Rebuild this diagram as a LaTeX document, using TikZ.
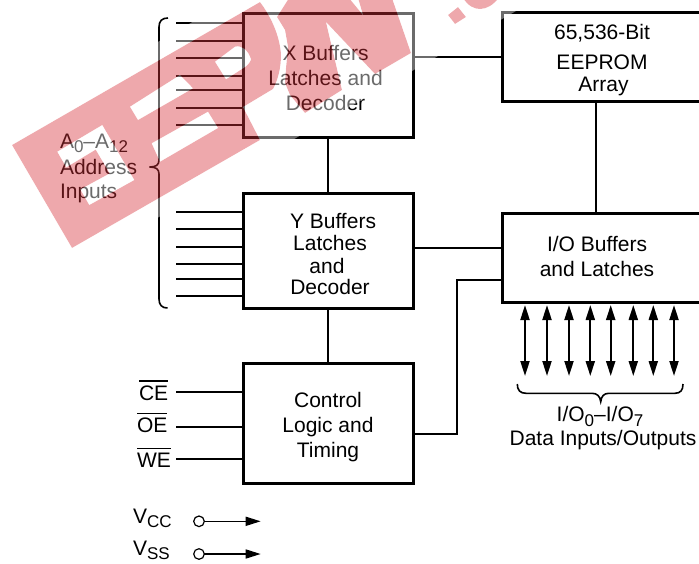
\documentclass[tikz,border=0pt]{standalone}
\usepackage{fontspec}
\setmainfont{Liberation Sans}
\usetikzlibrary{arrows.meta}
\definecolor{wmred}{RGB}{214,48,57}
\newcommand\sublow[1]{\raisebox{-4.3pt}{\fontsize{17}{17}\selectfont #1}}
\newcommand\bartext[1]{\vbox{\hrule height 1.7pt \kern 3.6pt \hbox{#1}}}
\tikzset{
  every node/.style={font=\fontsize{21}{22}\selectfont, inner sep=0pt, outer sep=0pt, text=black},
  blockbox/.style={draw=black, line width=3pt, rectangle, line join=miter},
  sig/.style={draw=black, line width=2pt},
  thinsig/.style={draw=black, line width=1.6pt},
  bidir/.style={draw=black, line width=2pt, {Triangle[length=15pt,width=9pt]}-{Triangle[length=15pt,width=9pt]}},
  pinarrow/.style={draw=black, line width=1.6pt, -{Triangle[length=15pt,width=9pt]}},
  pin/.style={draw=black, circle, line width=1.2pt, minimum size=10.6pt},
  lbl/.style={align=center},
  wmshapes/.style={insert path={
    (12,145) -- (260,2) .. controls (270,15) and (280,35) .. (281,55)
      .. controls (281,68) and (278,80) .. (273,89) -- (243,107) -- (260,140) -- (72,248) -- cycle
    (57.3,151.7) -- (102.3,125) -- (134.3,180) -- (89.3,205) -- (80.3,189.4) -- (109.7,173.4) -- (95.7,149.6) -- (66.3,167.3) -- cycle
    (130,106.7) -- (180,75) -- (193,88.3) -- (138,120) -- cycle
    (151.7,143.3) -- (208,111.7) -- (218,128) -- (160,161.7) -- cycle
    (215,61.7) -- (235,46.7) .. controls (242,45) and (248,50) .. (251,59.3) .. controls (250,63) and (247,66) .. (243,68.3) -- (226,79.3) -- cycle
    (289,-2) -- (277,17) -- (285,30) -- (288,47) -- (286,68) -- (285,83) -- (290,95) -- (305,113) -- (342,90) -- (326,22) -- (375,74) -- (411,53) -- (392,-2) -- (358,-2) -- (363,15) -- (349,-2) -- cycle
    (448,15) -- (458,7) -- (466,17) -- (455,24) -- cycle
    (463,-2) .. controls (468,6) and (474,9) .. (480,9) .. controls (487,9) and (493,5) .. (499,-2) -- cycle
  }}
}
\begin{document}
\begin{tikzpicture}[x=1pt,y=-1pt]
\useasboundingbox (0,0) rectangle (699,563);
\clip (0,0) rectangle (699,563);

% blocks
\node[blockbox, minimum width=169.5pt, minimum height=124.5pt] (xbox) at (328.25,75.25) {};
\node[blockbox, minimum width=169.5pt, minimum height=114.5pt] (ybox) at (328.25,250.75) {};
\node[blockbox, minimum width=169.5pt, minimum height=119.5pt] (cbox) at (328.25,423.25) {};
\node[blockbox, minimum width=208pt, minimum height=88.5pt] (ebox) at (606,56.75) {};
\node[blockbox, minimum width=208pt, minimum height=88.5pt] (iobox) at (606,257.75) {};

% block labels
\node[lbl] (xlabel) at (325.5,78) {X Buffers\\[3.7pt]Latches and\\[3pt]Decoder};
\node[lbl] (ylabel) at (330,254.3) {\kern6pt Y Buffers\\[-0.3pt]Latches\\[0.7pt]\kern-6pt and\\[-0.7pt]Decoder};
\node[lbl] (clabel) at (328,427) {Control\\[3pt]Logic and\\[3pt]Timing};
\node[lbl] (elabel) at (602,60.3) {65,536-Bit\\[7.3pt]EEPROM\\[0.4pt]\kern3pt Array};
\node[lbl] (iolabel) at (597,256.7) {I/O Buffers\\[3pt]and Latches};

% address inputs
\foreach \yy [count=\i] in {22.7,40.7,57.7,76,89.7,107.7,125} {
  \coordinate (xa\i) at (176,\yy);
  \draw[sig] (xa\i) -- (xa\i -| xbox.west);
}
\foreach \yy [count=\i] in {212,229,247,263.7,279,296} {
  \coordinate (ya\i) at (176,\yy);
  \draw[sig] (ya\i) -- (ya\i -| ybox.west);
}
\draw[thinsig] (168,18) .. controls (162,18) and (159,21) .. (159,27) -- (159,160)
  .. controls (159,165) and (156,167) .. (149.5,167)
  .. controls (156,167) and (159,169) .. (159,174) -- (159,299)
  .. controls (159,305) and (162,308) .. (167.5,308);
\node[anchor=base west, align=left] (addr1) at (60,148.3) {A\sublow{0}–A\sublow{12}};
\node[anchor=base west, align=left] (addr2) at (60,174.3) {Address};
\node[anchor=base west, align=left] (addr3) at (60,198.5) {Inputs};

% connectors between blocks
\draw[sig] (xbox.south) -- (ybox.north);
\draw[sig] (ybox.south) -- (cbox.north);
\coordinate (xeline) at (413,57);
\draw[sig] (xeline) -- (xeline -| ebox.west);
\coordinate (eioline) at (596,101);
\draw[sig] (eioline) -- (eioline |- iobox.north);
\coordinate (yioline) at (413,247.7);
\draw[sig] (yioline) -- (yioline -| iobox.west);
\coordinate (cout) at (413,433.5);
\coordinate (cup) at (457,433.5);
\coordinate (cin) at (457,280);
\draw[sig] (cout) -- (cup) -- (cin) -- (cin -| iobox.west);

% data arrows
\foreach \xx [count=\i] in {525,547,569,590.3,610.7,633.3,653.3,674} {
  \coordinate (dt\i) at (\xx,305);
  \coordinate (db\i) at (\xx,376);
  \draw[bidir] (dt\i) -- (db\i);
}
\draw[thinsig] (517.3,384) .. controls (517.3,390) and (520,393.3) .. (526,393.3) -- (592,393.3)
  .. controls (597,393.3) and (600,396) .. (600.7,401.7)
  .. controls (601.4,396) and (604,393.3) .. (609,393.3) -- (675,393.3)
  .. controls (680.5,393.3) and (683,390) .. (683,384);
\node[anchor=base] (iorange) at (600,421.7) {I/O\sublow{0}–I/O\sublow{7}};
\node[anchor=base] (iodesc) at (603,445.7) {Data Inputs/Outputs};

% control inputs
\node[anchor=base west] (ce) at (139,400) {\bartext{CE}};
\node[anchor=base west] (oe) at (137,432.7) {\bartext{OE}};
\node[anchor=base west] (we) at (137,467.3) {\bartext{WE}};
\coordinate (cea) at (176,392);
\coordinate (oea) at (176,427);
\coordinate (wea) at (176,459);
\draw[sig] (cea) -- (cea -| cbox.west);
\draw[sig] (oea) -- (oea -| cbox.west);
\draw[sig] (wea) -- (wea -| cbox.west);

% power pins
\node[anchor=base west] (vcc) at (133,523.3) {V\sublow{CC}};
\node[anchor=base west] (vss) at (133,555.5) {V\sublow{SS}};
\node[pin] (vccpin) at (199,521.3) {};
\node[pin] (vsspin) at (199,554) {};
\coordinate (vccend) at (260.7,521.3);
\coordinate (vssend) at (260.7,554);
\draw[pinarrow] (vccpin) -- (vccend);
\draw[pinarrow] (vsspin) -- (vssend);

% watermark
\fill[wmred, fill opacity=.42, even odd rule, wmshapes];
\fill[white, fill opacity=.42, even odd rule, wmshapes]
  (-10,139) -- (336,-61) -- (620,-61) -- (620,-49) -- (66,270.7) -- cycle;
\end{tikzpicture}
\end{document}
